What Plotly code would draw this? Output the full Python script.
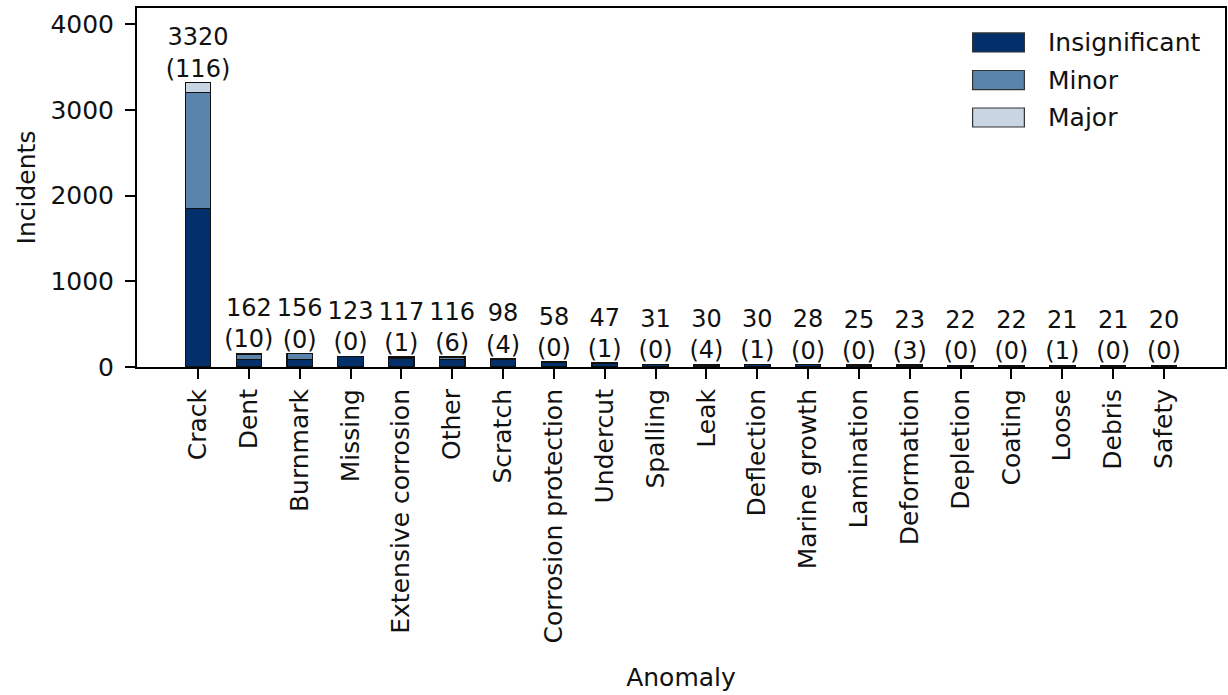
import plotly.graph_objects as go

categories = ["Crack", "Dent", "Burnmark", "Missing", "Extensive corrosion", "Other",
              "Scratch", "Corrosion protection", "Undercut", "Spalling", "Leak",
              "Deflection", "Marine growth", "Lamination", "Deformation", "Depletion",
              "Coating", "Loose", "Debris", "Safety"]
insignificant = [1850, 90, 90, 120, 95, 90, 90, 55, 44, 28, 22, 25, 26, 22, 16, 20, 20, 17, 20, 18]
minor = [1354, 62, 66, 3, 21, 20, 4, 3, 2, 3, 4, 4, 2, 3, 4, 2, 2, 3, 1, 2]
major = [116, 10, 0, 0, 1, 6, 4, 0, 1, 0, 4, 1, 0, 0, 3, 0, 0, 1, 0, 0]

series_names = ["Insignificant", "Minor", "Major"]
series_colors = ["#03306b", "#5a84ac", "#c8d5e2"]

totals = [a + b + c for a, b, c in zip(insignificant, minor, major)]
labels = [f"{t}<br>({m})" for t, m in zip(totals, major)]

FONT = "DejaVu Sans"
INK = "#111111"

fig = go.Figure()
for name, vals, col in zip(series_names, [insignificant, minor, major], series_colors):
    fig.add_trace(go.Bar(x=categories, y=vals, name=name, width=0.5, showlegend=False,
                         marker=dict(color=col, line=dict(color=INK, width=1.2))))

# totals with the major count underneath, above each stack
fig.add_trace(go.Scatter(x=categories, y=totals, mode="text", text=labels,
                         textposition="top center", showlegend=False,
                         textfont=dict(family=FONT, size=24, color=INK),
                         hoverinfo="skip"))

# legend drawn as outlined swatches in the upper right corner
legend_y = [0.904, 0.7994, 0.695]
half_h = 0.0265
for name, col, yc in zip(series_names, series_colors, legend_y):
    fig.add_shape(type="rect", xref="paper", yref="paper",
                  x0=0.768, x1=0.8156, y0=yc - half_h, y1=yc + half_h,
                  fillcolor=col, line=dict(color="#333333", width=1.2))
    fig.add_annotation(xref="paper", yref="paper", x=0.8355, y=yc, text=name,
                       showarrow=False, xanchor="left", yanchor="middle",
                       font=dict(family=FONT, size=25, color=INK))

fig.update_layout(
    barmode="stack",
    width=1228, height=695,
    margin=dict(l=137, r=1, t=8, b=328),
    plot_bgcolor="white", paper_bgcolor="white",
    font=dict(family=FONT, size=24, color=INK),
    showlegend=False,
)
fig.update_xaxes(range=[-1.2, 20.2], tickangle=-90, showline=True, linecolor="black",
                 linewidth=2, mirror=True, ticks="outside", ticklen=10, tickwidth=2,
                 tickcolor="black", tickfont=dict(family=FONT, size=25, color=INK),
                 title_text="Anomaly", title_standoff=26,
                 title_font=dict(family=FONT, size=25, color=INK))
fig.update_yaxes(range=[0, 4190], tickvals=[0, 1000, 2000, 3000, 4000], showgrid=False,
                 showline=True, linecolor="black", linewidth=2, mirror=True,
                 ticks="outside", ticklen=10, tickwidth=2, tickcolor="black",
                 tickfont=dict(family=FONT, size=25, color=INK), ticklabelstandoff=6,
                 zeroline=False, title_text="Incidents", title_standoff=8,
                 title_font=dict(family=FONT, size=25, color=INK))

fig.write_html("out.html")
